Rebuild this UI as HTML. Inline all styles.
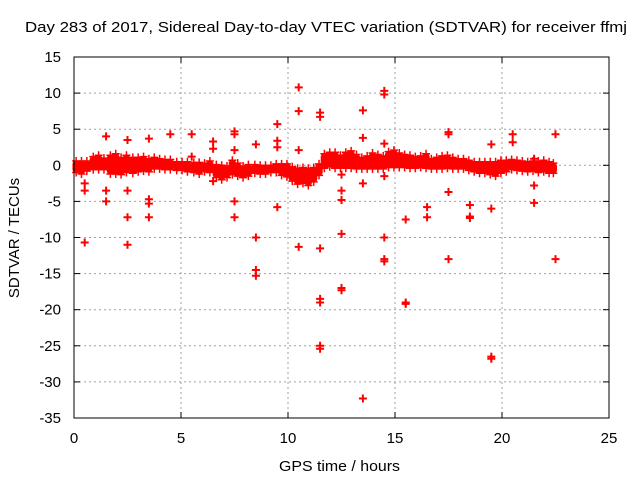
<!DOCTYPE html>
<html><head><meta charset="utf-8">
<style>
body{margin:0;background:#fff}
svg{display:block;font-family:"Liberation Sans",sans-serif}
</style></head>
<body>
<svg id="chart" width="640" height="480" viewBox="0 0 640 480">
<rect width="640" height="480" fill="#fff"/>
<text x="25" y="32" font-size="15" textLength="602" lengthAdjust="spacingAndGlyphs">Day 283 of 2017, Sidereal Day-to-day VTEC variation (SDTVAR) for receiver ffmj</text>
<text x="279" y="471" font-size="15" textLength="121" lengthAdjust="spacingAndGlyphs">GPS time / hours</text>
<text transform="translate(19,238) rotate(-90)" font-size="15" text-anchor="middle">SDTVAR / TECUs</text>
<g id="grid"></g>
<g id="ticks"></g>
<g id="marks"></g>
<rect x="74" y="57" width="535" height="361" fill="none" stroke="#000" stroke-width="1"/>
</svg>
<script>
const xTicks=[0,5,10,15,20,25];
const yTicks=[15,10,5,0,-5,-10,-15,-20,-25,-30,-35];
const bandTime=[0.1,0.35,0.6,0.9,1.15,1.4,1.7,1.95,2.2,2.45,2.75,3.0,3.25,3.5,3.75,4.0,4.25,4.5,4.8,5.05,5.3,5.6,5.85,6.1,6.35,6.65,6.9,7.15,7.4,7.65,7.9,8.15,8.45,8.7,8.95,9.2,9.45,9.7,9.95,10.2,10.45,10.7,10.95,11.2,11.45,11.7,11.95,12.2,12.45,12.7,12.95,13.2,13.45,13.7,13.95,14.2,14.45,14.7,14.95,15.2,15.45,15.7,15.95,16.2,16.45,16.7,16.95,17.2,17.45,17.7,17.95,18.2,18.45,18.7,18.95,19.2,19.45,19.7,19.95,20.2,20.45,20.7,20.95,21.2,21.45,21.7,21.95,22.2,22.4];
const bandCenter=[-0.2,-0.3,-0.1,0.3,0.4,0.2,0.1,0.2,-0.1,0.2,0.0,0.1,0.2,0.0,0.3,0.2,0.1,0.1,-0.1,-0.1,-0.2,-0.3,-0.4,-0.3,-0.2,-0.8,-1.0,-0.9,-0.3,-0.6,-0.9,-0.7,-0.5,-0.6,-0.6,-0.5,-0.4,-0.6,-0.7,-1.2,-1.5,-1.4,-1.6,-1.3,-0.6,0.6,0.8,0.7,0.5,0.7,0.8,0.5,0.3,0.4,0.6,0.5,0.4,0.8,0.9,0.7,0.6,0.5,0.4,0.5,0.6,0.2,0.3,0.4,0.5,0.3,0.2,0.2,0.0,-0.2,-0.3,-0.3,-0.4,-0.5,-0.2,-0.1,0.1,0.0,-0.1,-0.2,-0.1,-0.2,-0.1,-0.3,-0.4];
const bandHalf=[0.8,0.9,0.7,0.9,1.0,0.8,1.3,1.4,1.2,1.2,1.1,1.0,1.0,0.9,0.8,0.7,0.7,0.7,0.6,0.6,0.7,0.7,0.8,0.6,0.8,0.9,1.0,0.8,1.0,0.9,0.8,0.8,0.6,0.6,0.6,0.5,0.6,0.8,0.9,1.0,1.1,1.1,1.2,1.0,0.8,1.0,1.0,1.1,0.9,1.1,1.2,1.0,0.8,0.9,1.1,1.0,0.9,1.1,1.2,1.0,0.9,0.9,0.8,0.8,1.0,0.7,0.8,0.9,0.9,0.8,0.7,0.7,0.7,0.7,0.8,0.8,0.9,1.0,0.9,0.8,0.7,0.7,0.7,0.7,0.7,0.8,0.8,0.8,0.7];
const outTime=[0.5,0.5,0.5,1.5,1.5,1.5,2.5,2.5,2.5,2.5,3.5,3.5,3.5,3.5,4.5,5.5,5.5,6.5,6.5,6.5,7.5,7.5,7.5,7.5,7.5,8.5,8.5,8.5,8.5,9.5,9.5,9.5,9.5,10.5,10.5,10.5,10.5,11.5,11.5,11.5,11.5,11.5,11.5,11.5,12.5,12.5,12.5,12.5,12.5,12.5,13.5,13.5,13.5,13.5,14.5,14.5,14.5,14.5,14.5,14.5,14.5,15.5,15.5,15.5,16.5,16.5,17.5,17.5,17.5,17.5,18.5,18.5,18.5,19.5,19.5,19.5,19.5,20.5,20.5,21.5,21.5,21.5,22.5,22.5];
const outValue=[-2.5,-3.5,-10.7,4,-3.5,-5,3.5,-3.5,-7.2,-11,3.7,-4.7,-5.3,-7.2,4.3,4.3,1.2,3.3,2.3,-2.2,4.7,4.3,2.1,-5,-7.2,2.9,-10,-14.5,-15.3,5.7,3.4,2.5,-5.8,10.8,7.5,2.1,-11.3,7.3,6.7,-11.5,-18.5,-19,-25,-25.4,-1.3,-3.5,-4.8,-9.5,-17,-17.3,7.6,3.8,-2.5,-32.3,10.3,9.8,3,-1.5,-10,-13,-13.3,-7.5,-19,-19.2,-5.8,-7.2,4.6,4.3,-3.7,-13,-5.5,-7.1,-7.3,2.9,-6,-26.5,-26.8,4.3,3.2,0.9,-2.8,-5.2,4.3,-13];

const X0=74,X1=609,Y0=418,Y1=57;
const xs=v=>X0+(v-0)/(25-0)*(X1-X0);
const ys=v=>Y0-(v-(-35))/(15-(-35))*(Y0-Y1);
const NS="http://www.w3.org/2000/svg";
function mk(tag,parent){const e=document.createElementNS(NS,tag);parent.appendChild(e);return e;}
const grid=document.getElementById('grid'),ticks=document.getElementById('ticks'),marks=document.getElementById('marks');

xTicks.forEach(t=>{
  const x=xs(t);
  if(t>0&&t<25){const g=mk('line',grid);
    
    
    g.setAttribute('x1',x);g.setAttribute('x2',x);g.setAttribute('y1',Y1);g.setAttribute('y2',Y0);
    g.setAttribute('stroke','#a0a0a0');g.setAttribute('stroke-dasharray','2,3');}
  [[Y0,Y0-6],[Y1,Y1+6]].forEach(p=>{const l=mk('line',ticks);
    
    
    l.setAttribute('x1',x);l.setAttribute('x2',x);l.setAttribute('y1',p[0]);l.setAttribute('y2',p[1]);l.setAttribute('stroke','#000');});
  const tx=mk('text',ticks);
  
  
  tx.setAttribute('x',x);tx.setAttribute('y',443);tx.setAttribute('font-size','15');tx.setAttribute('text-anchor','middle');tx.textContent=t;
});
yTicks.forEach(t=>{
  const y=ys(t);
  if(t<15&&t>-35){const g=mk('line',grid);
    
    
    g.setAttribute('x1',X0);g.setAttribute('x2',X1);g.setAttribute('y1',y);g.setAttribute('y2',y);
    g.setAttribute('stroke','#a0a0a0');g.setAttribute('stroke-dasharray','2,3');}
  [[X0,X0+6],[X1,X1-6]].forEach(p=>{const l=mk('line',ticks);
    
    
    l.setAttribute('x1',p[0]);l.setAttribute('x2',p[1]);l.setAttribute('y1',y);l.setAttribute('y2',y);l.setAttribute('stroke','#000');});
  const tx=mk('text',ticks);
  
  
  tx.setAttribute('x',61);tx.setAttribute('y',y+5);tx.setAttribute('font-size','15');tx.setAttribute('text-anchor','end');tx.textContent=t;
});
function plus(x,y,w){
  const p=mk('path',marks);
  
  
  p.setAttribute('d',`M${x-4},${y}H${x+4}M${x},${y-4}V${y+4}`);
  p.setAttribute('stroke','#ff0000');p.setAttribute('stroke-width',w);p.setAttribute('fill','none');
}
const dt=0.25*(X1-X0)/25;
bandTime.forEach((t,i)=>{
  const x=xs(t),yt=ys(bandCenter[i]+bandHalf[i]),yb=ys(bandCenter[i]-bandHalf[i]);
  const r=mk('rect',marks);
  
  
  r.setAttribute('x',x-dt/2-1);r.setAttribute('y',yt);r.setAttribute('width',dt+2);r.setAttribute('height',yb-yt);
  r.setAttribute('rx','3');r.setAttribute('fill','#ff0000');
  plus(x,yt,1.5);plus(x,yb,1.5);
});
outTime.forEach((t,i)=>plus(xs(t),ys(outValue[i]),2));
</script>
</body></html>
